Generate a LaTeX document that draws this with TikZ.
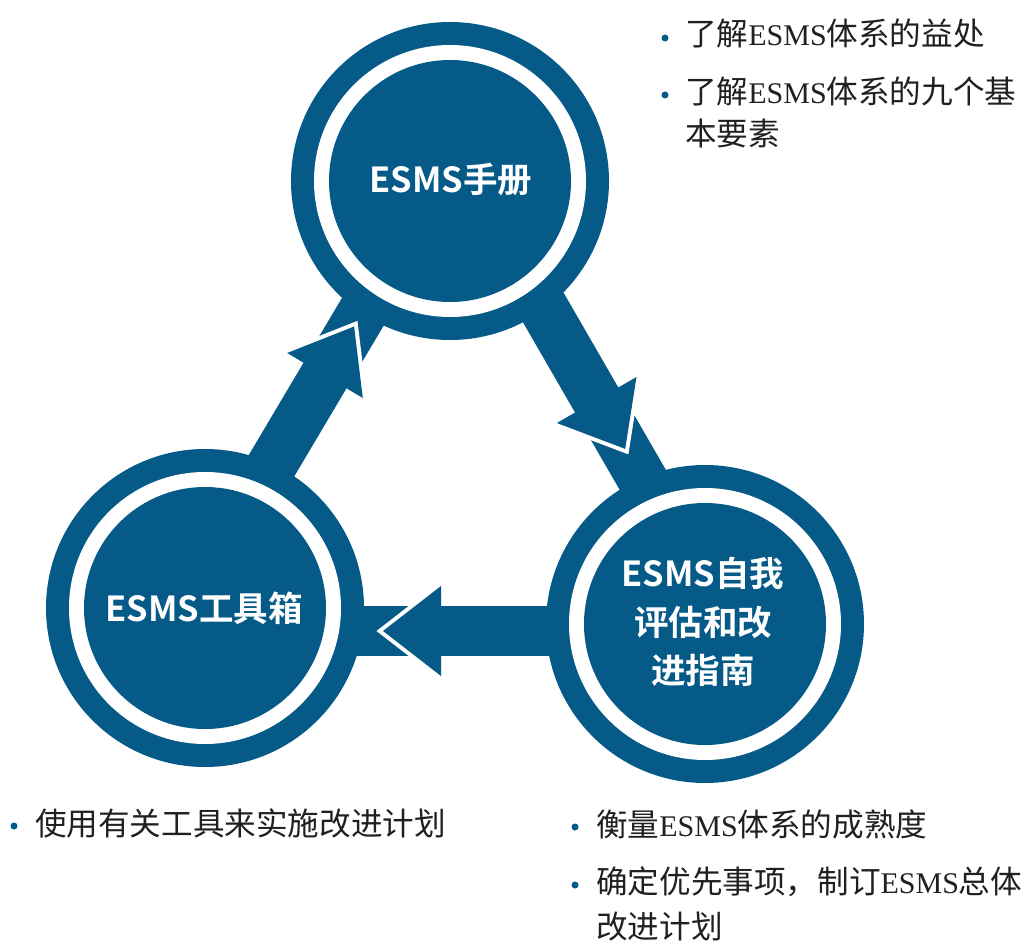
\documentclass[tikz,border=0pt]{standalone}
\usepackage{fontspec}
\newfontfamily\cjk{Noto Sans CJK SC}[BoldFont={Noto Sans CJK SC Bold}]
\newfontfamily\lserif{Liberation Serif}
\newcommand\ESMSr{{\lserif\fontsize{30}{44}\selectfont ESMS}}
\definecolor{esblue}{RGB}{6,90,135}
\definecolor{txtgray}{RGB}{35,31,32}
\begin{document}
\begin{tikzpicture}[x=1pt,y=-1pt,
  shaft/.style={draw=esblue, line width=50pt},
  outerdisk/.style={circle, fill=esblue, minimum size=318pt, inner sep=0pt},
  whitedisk/.style={circle, fill=white, minimum size=272pt, inner sep=0pt},
  innerdisk/.style={circle, fill=esblue, minimum size=242pt, inner sep=0pt},
  ctext/.style={text=white, font=\cjk\bfseries\fontsize{34.5}{48.5}\selectfont, align=center, inner sep=0pt},
  btext/.style={anchor=base west, inner sep=0pt, text=txtgray, font=\cjk\fontsize{31.6}{44}\selectfont},
  bdot/.style={circle, fill=esblue, minimum size=7pt, inner sep=0pt},
  headwhite/.style={draw=white, line width=8pt, line join=miter, miter limit=10},
  headfill/.style={fill=esblue}
]
\useasboundingbox (0,0) rectangle (1029,942);
\fill[white] (0,0) rectangle (1029,942);

% circle centres
\coordinate (cA) at (450,181);
\coordinate (cB) at (705,624);
\coordinate (cC) at (205,608);

% arrow geometry
\coordinate (S1) at (464.75,171.5);
\coordinate (E1) at (720.75,614.9);
\coordinate (T1) at (625.2,448.9);
\coordinate (L1) at (636.5,377.0);
\coordinate (R1) at (556.9,423.0);

\coordinate (S2) at (705,631);
\coordinate (E2) at (205,631);
\coordinate (T2) at (383,631);
\coordinate (L2) at (441,676);
\coordinate (R2) at (441,586);

\coordinate (S3) at (192.1,599.6);
\coordinate (E3) at (443.3,176.1);
\coordinate (T3) at (354.1,326.5);
\coordinate (L3) at (287.2,353.0);
\coordinate (R3) at (362.8,398.0);

% shafts
\draw[shaft] (S1) -- (E1);
\draw[shaft] (S2) -- (E2);
\draw[shaft] (S3) -- (E3);

% circles
\node[outerdisk] (A) at (cA) {};
\node[whitedisk] (Aw) at (cA) {};
\node[innerdisk] (Ai) at (cA) {};
\node[outerdisk] (B) at (cB) {};
\node[whitedisk] (Bw) at (cB) {};
\node[innerdisk] (Bi) at (cB) {};
\node[outerdisk] (C) at (cC) {};
\node[whitedisk] (Cw) at (cC) {};
\node[innerdisk] (Ci) at (cC) {};

\node[ctext] (At) at (451,180) {ESMS手册};
\node[ctext] (Bt) at (703,622) {ESMS自我\\评估和改\\进指南};
\node[ctext] (Ct) at (204,608) {ESMS工具箱};

% arrow heads
\draw[headwhite] (L1) -- (T1) -- (R1);
\fill[headfill] (L1) -- (T1) -- (R1) -- cycle;
\draw[headwhite] (L2) -- (T2) -- (R2);
\fill[headfill] (L2) -- (T2) -- (R2) -- cycle;
\draw[headwhite] (L3) -- (T3) -- (R3);
\fill[headfill] (L3) -- (T3) -- (R3) -- cycle;

% bullet texts
\node[bdot] (d1) at (665,38) {};
\node[btext] (t1) at (685,46) {了解\ESMSr 体系的益处};
\node[bdot] (d2) at (665,95) {};
\node[btext] (t2a) at (685,103) {了解\ESMSr 体系的九个基};
\node[btext] (t2b) at (685,146) {本要素};

\node[bdot] (d3) at (14,826) {};
\node[btext] (t3) at (35,835) {使用有关工具来实施改进计划};

\node[bdot] (d4) at (575,827) {};
\node[btext] (t4) at (596,836) {衡量\ESMSr 体系的成熟度};
\node[bdot] (d5) at (575,885) {};
\node[btext] (t5a) at (596,893) {确定优先事项，制订\ESMSr 总体};
\node[btext] (t5b) at (596,938) {改进计划};
\end{tikzpicture}
\end{document}
